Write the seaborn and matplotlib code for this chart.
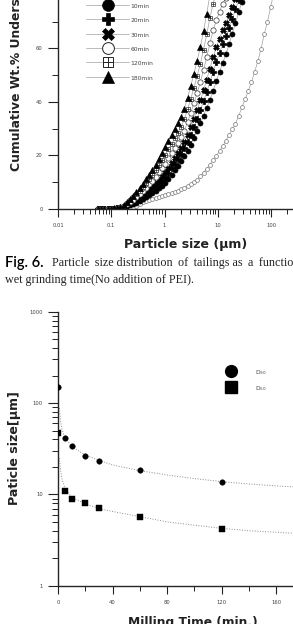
import numpy as np
import pandas as pd
import seaborn as sns
import matplotlib.pyplot as plt
from matplotlib.lines import Line2D
from matplotlib.legend_handler import HandlerTuple
from matplotlib.ticker import MultipleLocator, LogLocator, NullFormatter

# ---- Fig. 6 : cumulative size distribution (sizes in um, cum. wt.% undersize)
sizes = [0.056, 0.065, 0.074, 0.085, 0.098, 0.112, 0.129, 0.148, 0.170, 0.195,
         0.224, 0.257, 0.295, 0.339, 0.389, 0.447, 0.513, 0.589, 0.676, 0.776,
         0.891, 1.023, 1.175, 1.349, 1.549, 1.778, 2.042, 2.344, 2.692, 3.090,
         3.548, 4.074, 4.677, 5.370, 6.166, 7.079, 8.128, 9.333, 10.72, 12.30,
         14.13, 16.22, 18.62, 21.38, 24.55, 28.18, 32.36, 37.15, 42.66, 48.98,
         56.23, 64.57, 74.13, 85.11, 97.72, 112.2, 128.8]

cum_0min = [0, 0, 0, 0, 0, 0, 0, 0, 0.05, 0.15,
            0.35, 0.7, 1.2, 1.9, 2.6, 3.1, 3.5, 3.9, 4.2, 4.5,
            4.8, 5.1, 5.5, 5.9, 6.4, 6.9, 7.4, 8.0, 8.6, 9.3,
            10.0, 10.9, 12.2, 13.6, 15.1, 16.6, 18.2, 19.9, 21.6, 23.5,
            25.5, 27.8, 29.8, 31.8, 34.8, 38.0, 41.0, 44.2, 47.5, 51.3,
            55.3, 59.9, 65.4, 70.0, 75.5, 81.0, 86.0]
cum_10min = [0, 0, 0, 0.02, 0.05, 0.1, 0.2, 0.35, 0.6, 0.95,
             1.35, 1.8, 2.4, 3.0, 3.7, 4.4, 5.1, 5.9, 6.8, 7.7,
             8.7, 9.7, 11.2, 12.8, 14.4, 16.1, 17.9, 19.7, 21.8, 24.0,
             26.6, 29.2, 32.0, 34.8, 37.8, 40.7, 44.2, 47.7, 51.2, 54.6,
             57.8, 61.5, 65.5, 69.5, 73.5, 77.5, 81.0, 84.5]
cum_20min = [0, 0, 0, 0.03, 0.06, 0.12, 0.23, 0.43, 0.75, 1.2,
             1.8, 2.3, 3.1, 3.8, 4.7, 5.5, 6.4, 7.4, 8.5, 9.6,
             10.8, 12.0, 13.6, 15.3, 17.0, 18.8, 20.7, 22.7, 25.2, 27.7,
             30.7, 33.7, 36.9, 40.2, 43.8, 47.4, 51.3, 54.9, 58.3, 61.6,
             64.5, 67.7, 71.2, 74.6, 78.0, 81.3]
cum_30min = [0, 0, 0, 0.03, 0.07, 0.13, 0.26, 0.49, 0.87, 1.4,
             2.1, 2.8, 3.6, 4.5, 5.4, 6.4, 7.4, 8.5, 9.7, 11.0,
             12.4, 13.8, 15.5, 17.2, 19.0, 20.9, 22.8, 25.0, 27.7, 30.6,
             33.8, 37.1, 40.6, 44.3, 48.4, 52.5, 56.7, 60.4, 63.7, 66.9,
             69.6, 72.5, 75.6, 78.5, 81.5]
cum_60min = [0, 0, 0, 0.04, 0.08, 0.15, 0.31, 0.59, 1.1, 1.8,
             2.6, 3.5, 4.6, 5.7, 6.8, 8.0, 9.3, 10.6, 12.1, 13.7,
             15.3, 17.0, 18.9, 20.8, 22.7, 24.7, 26.8, 29.3, 32.4, 35.9,
             39.5, 43.4, 47.4, 51.9, 56.8, 61.9, 66.8, 70.5, 73.8, 76.7,
             79.0, 81.2, 83.6]
cum_120min = [0, 0, 0, 0.04, 0.09, 0.18, 0.36, 0.7, 1.3, 2.2,
              3.2, 4.3, 5.5, 6.8, 8.2, 9.6, 11.1, 12.7, 14.4, 16.4,
              18.3, 20.2, 22.3, 24.3, 26.4, 28.5, 30.7, 33.6, 37.2, 41.2,
              45.2, 49.7, 54.2, 59.5, 65.3, 71.4, 76.8, 80.7, 83.8, 86.5,
              88.4]
cum_180min = [0, 0, 0, 0.05, 0.1, 0.2, 0.4, 0.8, 1.5, 2.5,
              3.7, 5.0, 6.4, 7.9, 9.5, 11.1, 12.8, 14.6, 16.6, 18.8,
              21.0, 23.2, 25.4, 27.6, 29.8, 32.0, 34.3, 37.5, 41.5, 46.0,
              50.5, 55.5, 60.5, 66.5, 73.0, 80.0, 86.0]

# ---- Fig. 7 : D90 / D50 vs milling time
mill_time = [0, 5, 10, 20, 30, 60, 120]
d90 = [150, 41, 33.6, 26.5, 23.2, 18.3, 13.6]
d50 = [47, 10.9, 8.9, 8.0, 7.1, 5.6, 4.2]
fit_time = [1, 2, 3, 5, 10, 20, 30, 40, 60, 80, 100, 120, 140, 160, 180, 200]
d90_fit = [88, 62, 51, 42, 33.5, 27, 23.6, 21, 18.2, 16.3, 14.9, 13.8, 13.0, 12.4, 11.9, 11.4]
d50_fit = [25, 18, 14.5, 11.8, 9.3, 7.9, 7.0, 6.5, 5.7, 5.0, 4.6, 4.25, 4.0, 3.85, 3.7, 3.55]

W, H = 293, 624
sns.set_style('ticks')
plt.rcParams['font.family'] = ['DejaVu Sans']
plt.rcParams['axes.linewidth'] = 1.0

fig = plt.figure(figsize=(W / 100, H / 100), dpi=100)


def box(left, top, right, bottom):
    # pixel box -> figure fraction
    return [left / W, 1 - bottom / H, (right - left) / W, (bottom - top) / H]


line_gray = '#a0a0a0'
tick_kw = dict(labelsize=3.8, labelcolor='#444444', width=0.8, color='#222222')

# ============ top chart ============
ax1 = fig.add_axes(box(58, -58.5, 324.5, 209))
ax1.set_xscale('log')

series = [
    ('0min', cum_0min, 'o', 2.8, 'white', '#777777'),
    ('10min', cum_10min, 'o', 3.6, 'black', 'black'),
    ('20min', cum_20min, 'P', 3.8, 'black', 'black'),
    ('30min', cum_30min, 'X', 3.8, 'black', 'black'),
    ('60min', cum_60min, 'o', 3.8, 'white', '#333333'),
    ('120min', cum_120min, 's', 3.5, 'white', '#333333'),
    ('180min', cum_180min, '^', 3.9, 'black', 'black'),
]
for name, vals, m, ms, fc, ec in series:
    sns.lineplot(x=sizes[:len(vals)], y=vals, ax=ax1, color=line_gray, lw=0.5,
                 marker=m, ms=ms, mfc=fc, mec=ec, mew=0.5)
    if name == '120min':
        sns.lineplot(x=sizes[:len(vals)], y=vals, ax=ax1, color=line_gray, lw=0,
                     marker='+', ms=3.5, mec='#333333', mew=0.5)

ax1.set_xlim(0.01, 1000)
ax1.set_ylim(0, 100)
ax1.yaxis.set_major_locator(MultipleLocator(20))
ax1.yaxis.set_minor_locator(MultipleLocator(10))
ax1.xaxis.set_minor_locator(LogLocator(base=10, subs=np.arange(2, 10)))
ax1.xaxis.set_minor_formatter(NullFormatter())
ax1.set_xticks([0.01, 0.1, 1, 10, 100], ['0.01', '0.1', '1', '10', '100'])
ax1.tick_params(axis='both', which='major', length=6, pad=4, **tick_kw)
ax1.tick_params(axis='both', which='minor', length=3.5, width=0.7, color='#222222')
ax1.tick_params(axis='y', which='major', length=7)
ax1.tick_params(axis='y', which='minor', length=4.5)
sns.despine(ax=ax1)
ax1.set_xlabel('')
ax1.set_ylabel('')

legend_rows = []
for name, vals, m, ms, fc, ec in series:
    if name == '120min':
        h = (Line2D([], [], color=line_gray, lw=0.5, marker='s', ms=7.5, mfc='white', mec='#222222', mew=0.7),
             Line2D([], [], lw=0, marker='+', ms=7.5, mec='#222222', mew=0.7))
    else:
        h = Line2D([], [], color=line_gray, lw=0.5, marker=m, ms=8.5,
                   mfc=fc, mec='#222222' if fc == 'white' else 'black', mew=0.7 if fc == 'white' else 0.5)
    legend_rows.append((h, name))
leg1 = ax1.legend([r[0] for r in legend_rows], [r[1] for r in legend_rows],
                  handler_map={tuple: HandlerTuple(ndivide=1)},
                  loc='upper left', bbox_to_anchor=(86 / W, 1 - (-12.5) / H),
                  bbox_transform=fig.transFigure, frameon=False, fontsize=4.3,
                  handlelength=7.2, handleheight=1.7, labelspacing=1.06,
                  handletextpad=0.3, borderpad=0, borderaxespad=0)
for t in leg1.get_texts():
    t.set_color('#444444')

fig.text(17 / W, 1 - 75 / H, 'Cumulative Wt.% Undersize', rotation=90,
         ha='center', va='center', fontsize=8.9, fontweight='bold', color='#222222')
fig.text(186 / W, 1 - 245 / H, 'Particle size (\u03bcm)', ha='center', va='center',
         fontsize=9, fontweight='bold', color='#222222')

# caption (first line is justified in the paper -> a little wider word spacing)
fig.text(5 / W, 1 - 263 / H, 'Fig. 6.', ha='left', va='center', fontsize=10.5,
         family=['Lato', 'DejaVu Sans'], fontweight='semibold', color='black')
wide, narrow = ' \u2009', ' '
fig.text(52 / W, 1 - 263 / H,
         'Particle' + wide + 'size' + narrow + 'distribution' + wide + 'of' + wide +
         'tailings' + narrow + 'as' + wide + 'a' + wide + 'function' + narrow + 'of',
         ha='left', va='center', fontsize=8.7, family=['Liberation Serif', 'DejaVu Serif'],
         color='#222222')
fig.text(5 / W, 1 - 280 / H, 'wet grinding time(No addition of PEI).',
         ha='left', va='center', fontsize=8.7, family=['Liberation Serif'], color='#222222')

# ============ bottom chart ============
ax2 = fig.add_axes(box(58, 311.7, 330.5, 585.7))
sns.lineplot(x=fit_time, y=d90_fit, ax=ax2, color='#8c8c8c', lw=0.7, ls=':')
sns.lineplot(x=fit_time, y=d50_fit, ax=ax2, color='#8c8c8c', lw=0.7, ls=':')
sns.scatterplot(x=mill_time, y=d90, ax=ax2, marker='o', s=16, color='black',
                edgecolor='black', linewidth=0.3, zorder=3)
sns.scatterplot(x=mill_time, y=d50, ax=ax2, marker='s', s=16, color='black',
                edgecolor='black', linewidth=0.3, zorder=3)
ax2.set_yscale('log')
ax2.set_xlim(0, 200)
ax2.set_ylim(1, 1000)
ax2.set_yticks([1, 10, 100, 1000], ['1', '10', '100', '1000'])
ax2.yaxis.set_minor_locator(LogLocator(base=10, subs=np.arange(2, 10)))
ax2.yaxis.set_minor_formatter(NullFormatter())
ax2.set_xticks([0, 40, 80, 120, 160])
ax2.xaxis.set_minor_locator(MultipleLocator(20))
ax2.tick_params(axis='both', which='major', length=6, pad=4, **tick_kw)
ax2.tick_params(axis='both', which='minor', length=3.5, width=0.7, color='#222222')
ax2.tick_params(axis='y', which='major', length=7)
ax2.tick_params(axis='y', which='minor', length=4.5)
sns.despine(ax=ax2)
ax2.set_xlabel('')
ax2.set_ylabel('')

h90 = Line2D([], [], lw=0, marker='o', ms=8.5, mfc='black', mec='black')
h50 = Line2D([], [], lw=0, marker='s', ms=8.5, mfc='black', mec='black')
leg2 = ax2.legend([h90, h50], [r'D$_{90}$', r'D$_{50}$'], loc='upper left',
                  bbox_to_anchor=(227.7 / W, 1 - 367.7 / H), bbox_transform=fig.transFigure,
                  frameon=False, fontsize=4.3, handlelength=1.2, handleheight=1.6,
                  labelspacing=1.29, handletextpad=3.4, borderpad=0, borderaxespad=0)
for t in leg2.get_texts():
    t.set_color('#444444')

fig.text(15 / W, 1 - 448 / H, 'Paticle size[\u03bcm]', rotation=90, ha='center', va='center',
         fontsize=9.1, fontweight='bold', color='#222222')
fig.text(193 / W, 1 - 616 / H, 'Milling Time (min.)', ha='center', va='top',
         fontsize=8.8, fontweight='bold', color='#222222')

fig.savefig('out.png', dpi=100)
